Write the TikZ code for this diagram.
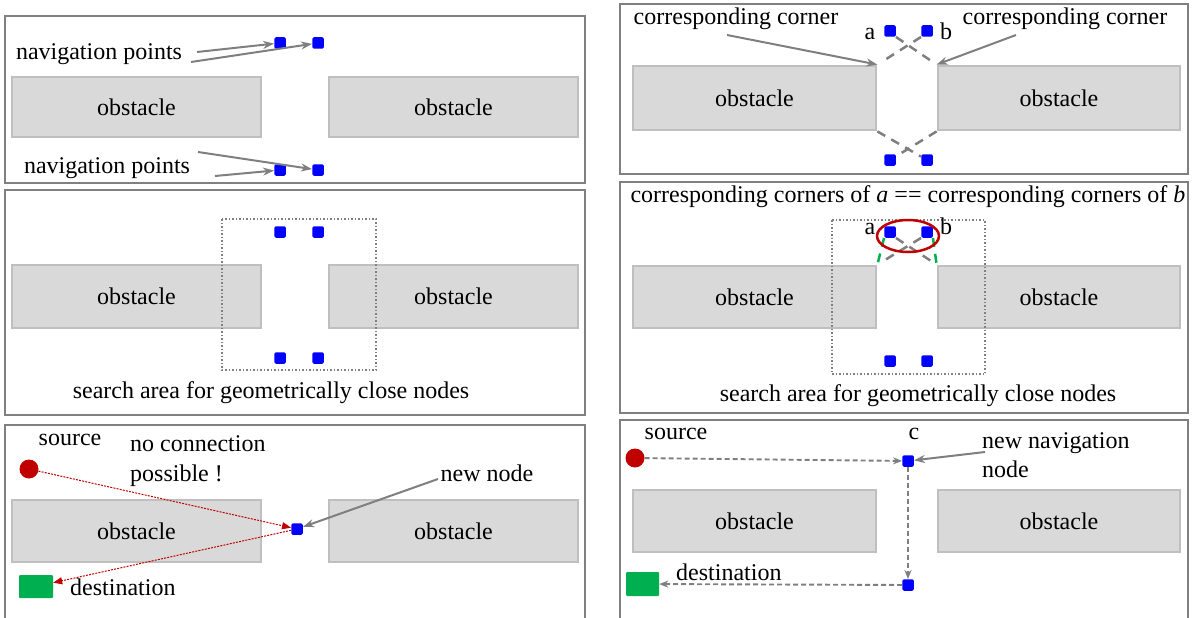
\documentclass[tikz,border=0pt]{standalone}
\usepackage{fontspec}
\setmainfont{Liberation Serif}
\usetikzlibrary{arrows.meta,shapes.geometric}
\definecolor{frame}{HTML}{808080}
\definecolor{obfill}{HTML}{D9D9D9}
\definecolor{obedge}{HTML}{BFBFBF}
\definecolor{navblue}{HTML}{0000FF}
\definecolor{srcred}{HTML}{C00000}
\definecolor{dstgreen}{HTML}{00B050}
\definecolor{linkgray}{HTML}{7F7F7F}

\begin{document}
\begin{tikzpicture}[x=1pt,y=-1pt,
  panel/.style={draw=frame,line width=1.2pt},
  obst/.style={draw=obedge,fill=obfill,line width=2.8pt,inner sep=0pt,
    font=\fontsize{24}{29}\selectfont},
  nav/.style={fill=navblue,minimum size=11.5pt,inner sep=0pt,rounded corners=1.5pt},
  lbl/.style={font=\fontsize{24}{29}\selectfont,inner sep=0pt,anchor=base},
  pointer/.style={draw=linkgray,line width=2pt,-{Stealth[length=11pt,width=8pt]}},
  cross/.style={draw=linkgray,line width=2.5pt,dash pattern=on 9pt off 7pt},
  match/.style={draw=dstgreen,line width=2.5pt,dash pattern=on 9pt off 7pt},
  area/.style={draw=frame,line width=1.5pt,dash pattern=on 1.5pt off 2pt},
  route/.style={draw=linkgray,line width=1.9pt,dash pattern=on 5pt off 3pt,
    -{Stealth[length=9pt,width=7pt]}},
  blocked/.style={draw=srcred,line width=1pt,dash pattern=on 2pt off 1.2pt,
    -{Triangle[length=9pt,width=7pt]}},
  src/.style={circle,fill=srcred,minimum size=19pt,inner sep=0pt},
  dst/.style={fill=dstgreen,inner sep=0pt,rounded corners=1pt},
]
\useasboundingbox (0,0) rectangle (1192,618);

% ---------- left column ----------
\draw[panel] (5,16) rectangle (585,183);
\draw[panel] (5,190) rectangle (585,415);
\draw[panel] (5,622) -- (5,425) -- (585,425) -- (585,622);

% panel 1: navigation points around the gap
\node[obst,minimum width=249pt,minimum height=60pt] (o1l) at (136.5,107) {obstacle};
\node[obst,minimum width=249pt,minimum height=60pt] (o1r) at (453.5,107) {obstacle};
\node[nav] (n1a) at (280,43) {};
\node[nav] (n1b) at (318,43) {};
\node[nav] (n1c) at (280,170) {};
\node[nav] (n1d) at (318,170) {};
\node[lbl] (t1a) at (99,60) {navigation points};
\node[lbl] (t1b) at (107,173) {navigation points};
\coordinate (p1a) at (197,52);
\coordinate (p1b) at (191,62);
\coordinate (p1c) at (198,152);
\coordinate (p1d) at (215,176);
\draw[pointer] (p1a) -- (n1a);
\draw[pointer] (p1b) -- (n1b);
\draw[pointer] (p1c) -- (n1d);
\draw[pointer] (p1d) -- (n1c);

% panel 2: search area
\node[obst,minimum width=249pt,minimum height=63pt] (o2l) at (136.5,296.5) {obstacle};
\node[obst,minimum width=249pt,minimum height=63pt] (o2r) at (453.5,296.5) {obstacle};
\draw[area] (222,219) rectangle (376,370);
\node[nav] (n2a) at (280,232) {};
\node[nav] (n2b) at (318,232) {};
\node[nav] (n2c) at (280,358) {};
\node[nav] (n2d) at (318,358) {};
\node[lbl] (t2) at (271,398) {search area for geometrically close nodes};

% panel 3: new node without connection
\node[obst,minimum width=249pt,minimum height=62pt] (o3l) at (136.5,531) {obstacle};
\node[obst,minimum width=249pt,minimum height=62pt] (o3r) at (453.5,531) {obstacle};
\node[src] (s3) at (29,469) {};
\node[dst,minimum width=34pt,minimum height=23pt] (d3) at (36,586.5) {};
\node[nav] (n3) at (297,529) {};
\node[lbl] (t3s) at (70,445) {source};
\node[lbl,anchor=base west] (t3n) at (130,451) {no connection};
\node[lbl,anchor=base west] (t3p) at (130,481) {possible !};
\node[lbl] (t3w) at (487,481) {new node};
\node[lbl,anchor=base west] (t3d) at (70,595) {destination};
\coordinate (p3) at (438,479);
\draw[pointer] (p3) -- (n3);
\draw[blocked] (s3) -- (n3);
\draw[blocked] (n3) -- (d3);

% ---------- right column ----------
\draw[panel] (620,4) rectangle (1188,174);
\draw[panel] (620,182) rectangle (1188,413);
\draw[panel] (620,622) -- (620,420) -- (1188,420) -- (1188,622);

% panel 4: corresponding corners
\node[obst,minimum width=243pt,minimum height=64pt] (o4l) at (754.5,98) {obstacle};
\node[obst,minimum width=242pt,minimum height=64pt] (o4r) at (1059,98) {obstacle};
\node[nav] (n4a) at (890,31) {};
\node[nav] (n4b) at (927,31) {};
\node[nav] (n4c) at (890,160) {};
\node[nav] (n4d) at (927,160) {};
\node[lbl] (t4a) at (870,40) {a};
\node[lbl] (t4b) at (946,40) {b};
\node[lbl] (t4l) at (736,25) {corresponding corner};
\node[lbl] (t4r) at (1065,25) {corresponding corner};
\draw[cross,shorten >=5pt] (n4a.south east) -- (o4r.north west);
\draw[cross,shorten >=5pt] (n4b.south west) -- (o4l.north east);
\draw[cross] (o4l.south east) -- (n4d);
\draw[cross] (o4r.south west) -- (n4c);
\coordinate (p4l) at (727,35);
\coordinate (p4r) at (1016,35);
\draw[pointer] (p4l) -- (o4l.north east);
\draw[pointer] (p4r) -- (o4r.north west);

% panel 5: matching corners inside the search area
\node[lbl] (t5) at (908,202) {corresponding corners of \textit{a} == corresponding corners of \textit{b}};
\node[obst,minimum width=243pt,minimum height=62pt] (o5l) at (754.5,297) {obstacle};
\node[obst,minimum width=242pt,minimum height=62pt] (o5r) at (1059,297) {obstacle};
\draw[area] (832,220) rectangle (985,374);
\node[nav] (n5a) at (890,232) {};
\node[nav] (n5b) at (927,232) {};
\node[nav] (n5c) at (890,361) {};
\node[nav] (n5d) at (927,361) {};
\node[lbl] (t5a) at (870,234) {a};
\node[lbl] (t5b) at (946,234) {b};
\draw[cross,shorten >=5pt] (n5a.south east) -- (o5r.north west);
\draw[cross,shorten >=5pt] (n5b.south west) -- (o5l.north east);
\draw[match] (n5a.south west) -- (o5l.north east);
\draw[match] (n5b.south east) -- (o5r.north west);
\node[draw=srcred,line width=2.5pt,ellipse,minimum width=62pt,minimum height=32pt,inner sep=0pt] (ring) at (908,236) {};
\node[lbl] (t5s) at (918,401) {search area for geometrically close nodes};

% panel 6: route through the merged navigation node
\node[obst,minimum width=243pt,minimum height=62pt] (o6l) at (754.5,521) {obstacle};
\node[obst,minimum width=242pt,minimum height=62pt] (o6r) at (1059,521) {obstacle};
\node[src] (s6) at (635,458) {};
\node[dst,minimum width=33pt,minimum height=24pt] (d6) at (642.5,584) {};
\node[nav] (n6c) at (908,461) {};
\node[nav] (n6e) at (908,585) {};
\node[lbl] (t6s) at (676,439) {source};
\node[lbl] (t6c) at (914,439) {c};
\node[lbl,anchor=base west] (t6n) at (982,448) {new navigation};
\node[lbl,anchor=base west] (t6m) at (982,477) {node};
\node[lbl,anchor=base west] (t6d) at (676,580) {destination};
\coordinate (p6) at (985,452);
\draw[pointer] (p6) -- (n6c);
\draw[route] (s6) -- (n6c);
\draw[route] (n6c) -- (n6e);
\draw[route] (n6e) -- (d6);
\end{tikzpicture}
\end{document}
